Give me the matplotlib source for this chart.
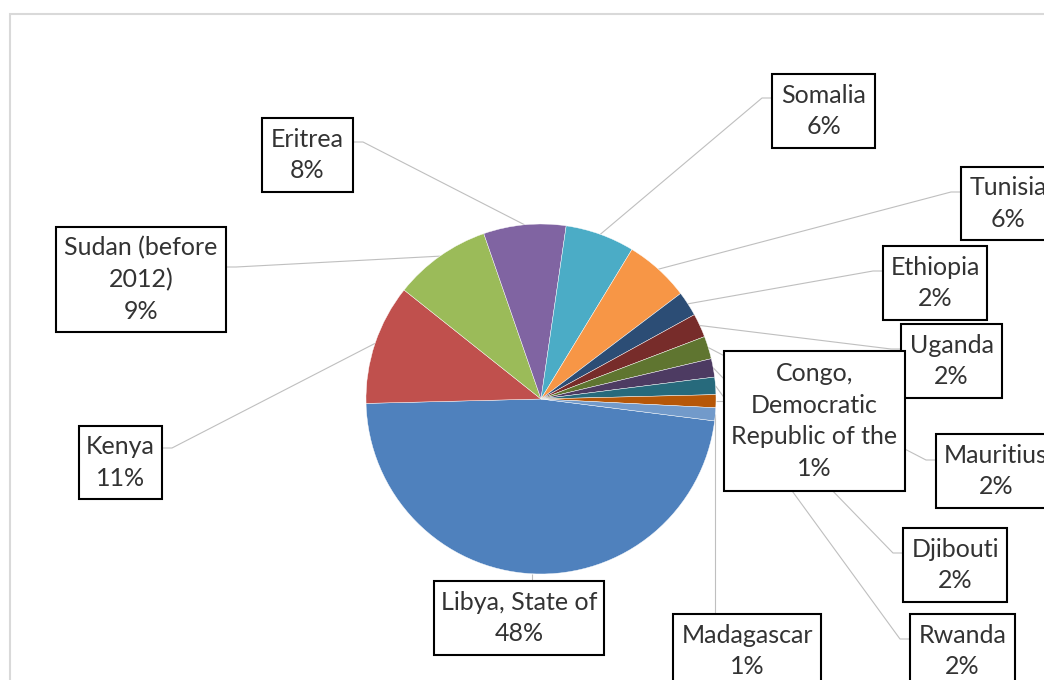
import textwrap

import numpy as np
import matplotlib
matplotlib.use("Agg")
import matplotlib.pyplot as plt
from matplotlib.patches import Rectangle

plt.rcParams["font.family"] = ["Lato", "DejaVu Sans"]

W, H = 1044, 680

categories = [
    "Libya, State of", "Kenya", "Sudan (before 2012)", "Eritrea", "Somalia",
    "Tunisia", "Ethiopia", "Uganda", "Mauritius", "Djibouti", "Rwanda",
    "Congo, Democratic Republic of the", "Madagascar",
]
shares = [47.6, 11.1, 9.0, 7.6, 6.4, 6.0, 2.3, 2.2, 2.1, 1.7, 1.6, 1.2, 1.2]

colors = [
    "#4F81BD", "#C0504D", "#9BBB59", "#8064A2", "#4BACC6", "#F79646",
    "#2C4D75", "#772C2A", "#5F7530", "#4D3B62", "#276A7C", "#B65708", "#729ACA",
]

# label boxes in picture pixels: x0, y0, x1, y1, side the leader enters, stub y
BOXES = [
    (434, 581, 604, 655, "top", None),
    (79, 426, 162, 499, "right", 448),
    (56, 227, 226, 332, "right", 267),
    (262, 118, 353, 192, "right", 142),
    (772, 74, 875, 148, "left", 98),
    (961, 167, 1055, 240, "left", 192),
    (883, 246, 987, 320, "left", 271),
    (901, 324, 1002, 398, "left", 349),
    (936, 434, 1056, 508, "left", 460),
    (903, 528, 1007, 602, "left", 553),
    (910, 614, 1015, 688, "left", 639),
    (724, 351, 905, 491, "left", None),
    (673, 614, 821, 688, "top", None),
]

CX, CY, R = 541, H - 399, 175
LEADER = "#BFBFBF"
TEXT = "#333333"


def fy(y):
    return H - y


fig = plt.figure(figsize=(W / 100, H / 100), dpi=100)
ax = fig.add_axes([0, 0, 1, 1])

wedges, _ = ax.pie(shares, colors=colors, startangle=-7.2, counterclock=False,
                   center=(CX, CY), radius=R,
                   wedgeprops=dict(edgecolor="white", linewidth=0.3))
for w in wedges:
    w.set_zorder(2)

ax.set_xlim(0, W)
ax.set_ylim(0, H)
ax.set_aspect("equal")
ax.axis("off")

# chart area border
ax.add_patch(Rectangle((10, fy(1000)), 1200, 1000 - 14, facecolor="none",
                       edgecolor="#D9D9D9", linewidth=1.5, zorder=0))

total = sum(shares)
for w, name, val, box in zip(wedges, categories, shares, BOXES):
    x0, y0, x1, y1, side, sy = box
    mid = np.deg2rad((w.theta1 + w.theta2) / 2)
    px, py = CX + R * np.cos(mid), CY + R * np.sin(mid)
    if side == "top":
        xs, ys = [px, px], [py, fy(y0)]
    elif side == "left":
        if sy is None:
            xs, ys = [px, x0], [py, py]
        else:
            xs, ys = [px, x0 - 10, x0], [py, fy(sy), fy(sy)]
    else:
        xs, ys = [px, x1 + 10, x1], [py, fy(sy), fy(sy)]
    ax.plot(xs, ys, color=LEADER, lw=0.8, zorder=1, solid_capstyle="butt")

    ax.add_patch(Rectangle((x0, fy(y1)), x1 - x0, y1 - y0, facecolor="white",
                           edgecolor="black", linewidth=1.5, zorder=3))
    label = textwrap.fill(name, 15) + "\n" + f"{round(val / total * 100):.0f}%"
    ax.text((x0 + x1) / 2, fy((y0 + y1) / 2), label, ha="center", va="center",
            fontsize=18, color=TEXT, linespacing=1.45, zorder=4)

fig.savefig("out.png", dpi=100, facecolor="white")
